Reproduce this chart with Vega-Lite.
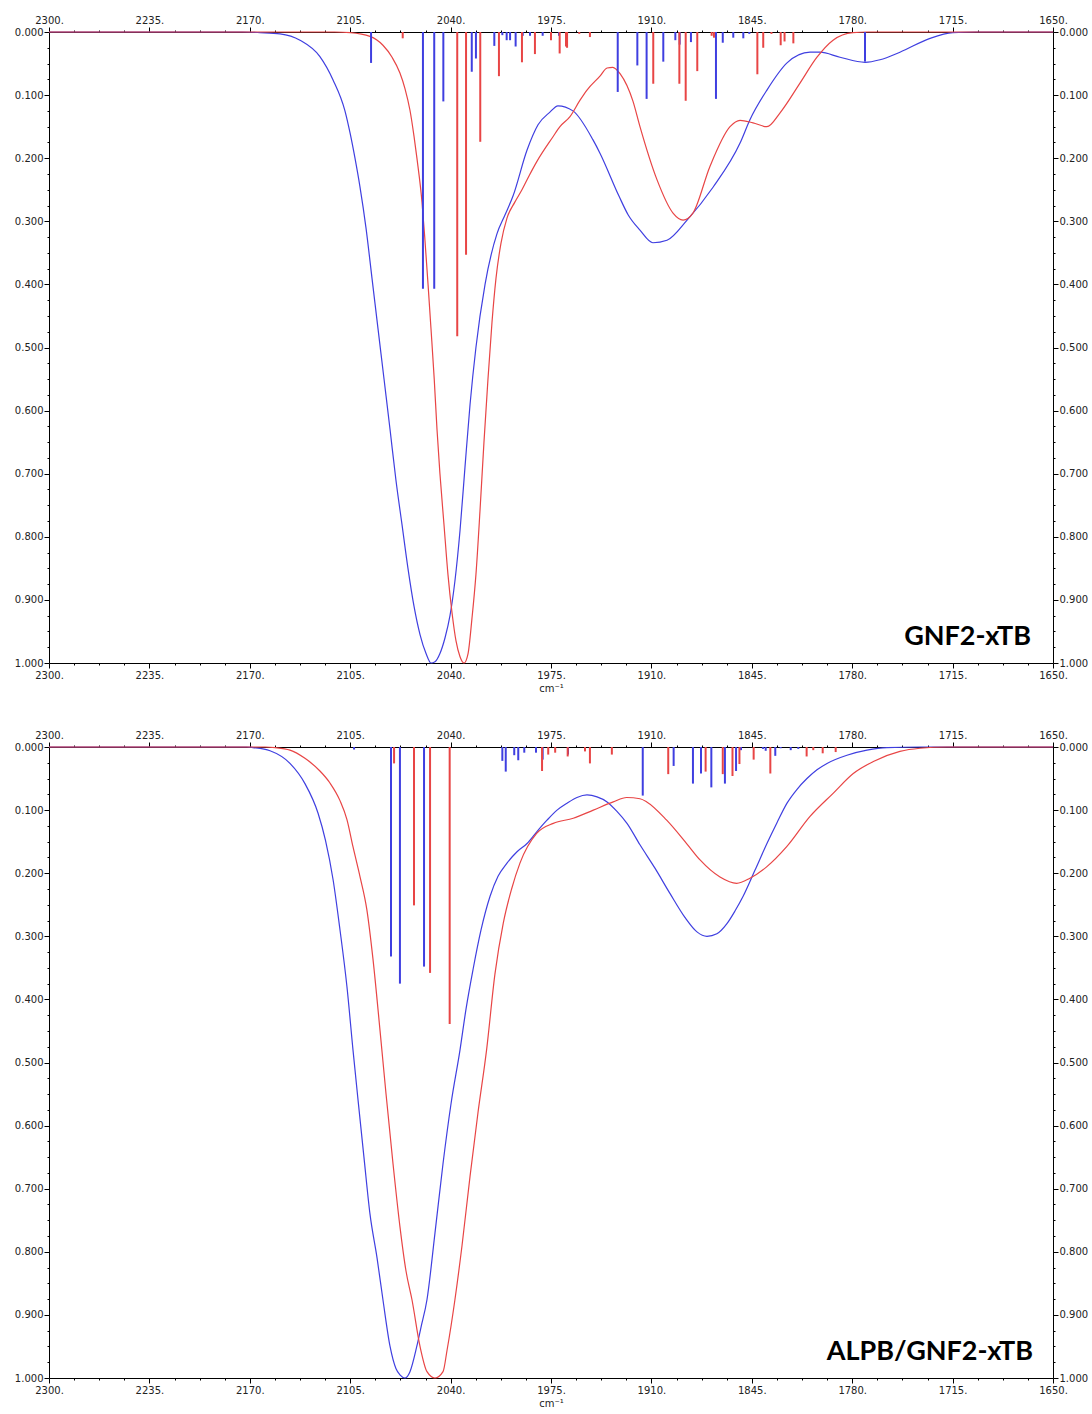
{
  "$schema": "https://vega.github.io/schema/vega-lite/v6.json",
  "padding": {"left": 14, "top": 15, "right": 0, "bottom": 0},
  "spacing": 84,
  "bounds": "flush",
  "background": "white",
  "config": {
    "view": {"stroke": null},
    "axis": {
      "grid": false,
      "domainColor": "#000000",
      "domainWidth": 1,
      "tickColor": "#000000",
      "tickWidth": 1,
      "labelFont": "DejaVu Sans",
      "labelFontSize": 10,
      "labelColor": "#222222",
      "titleFont": "DejaVu Sans",
      "titleFontSize": 10,
      "titleFontWeight": "normal",
      "titleColor": "#222222",
      "labelOverlap": false,
      "labelFlush": false,
      "labelBound": false
    }
  },
  "datasets": {
    "top_curves": [
      {"wn": 2300, "a": 0, "series": "S1"}, {"wn": 2250, "a": 0, "series": "S1"}, {"wn": 2200, "a": 0, "series": "S1"}, {"wn": 2175, "a": 0, "series": "S1"},
      {"wn": 2163.4, "a": 0.001, "series": "S1"}, {"wn": 2150.4, "a": 0.003, "series": "S1"}, {"wn": 2137.5, "a": 0.013, "series": "S1"}, {"wn": 2124.6, "a": 0.039, "series": "S1"},
      {"wn": 2116.1, "a": 0.076, "series": "S1"}, {"wn": 2108.4, "a": 0.125, "series": "S1"}, {"wn": 2105.1, "a": 0.16, "series": "S1"}, {"wn": 2101.9, "a": 0.2, "series": "S1"},
      {"wn": 2098.7, "a": 0.245, "series": "S1"}, {"wn": 2094.8, "a": 0.31, "series": "S1"}, {"wn": 2090.9, "a": 0.39, "series": "S1"}, {"wn": 2087.0, "a": 0.47, "series": "S1"},
      {"wn": 2083.1, "a": 0.55, "series": "S1"}, {"wn": 2079.2, "a": 0.63, "series": "S1"}, {"wn": 2075.4, "a": 0.71, "series": "S1"}, {"wn": 2071.5, "a": 0.78, "series": "S1"},
      {"wn": 2067.6, "a": 0.85, "series": "S1"}, {"wn": 2063.7, "a": 0.91, "series": "S1"}, {"wn": 2059.8, "a": 0.955, "series": "S1"}, {"wn": 2055.9, "a": 0.985, "series": "S1"},
      {"wn": 2052.7, "a": 1.0, "series": "S1"}, {"wn": 2050.1, "a": 0.998, "series": "S1"}, {"wn": 2046.9, "a": 0.985, "series": "S1"}, {"wn": 2043.6, "a": 0.96, "series": "S1"},
      {"wn": 2040.4, "a": 0.925, "series": "S1"}, {"wn": 2037.2, "a": 0.87, "series": "S1"}, {"wn": 2033.9, "a": 0.79, "series": "S1"}, {"wn": 2030.7, "a": 0.69, "series": "S1"},
      {"wn": 2027.4, "a": 0.59, "series": "S1"}, {"wn": 2023.6, "a": 0.5, "series": "S1"}, {"wn": 2017.7, "a": 0.4, "series": "S1"}, {"wn": 2010.0, "a": 0.32, "series": "S1"},
      {"wn": 2004.8, "a": 0.29, "series": "S1"}, {"wn": 1999.6, "a": 0.26, "series": "S1"}, {"wn": 1990.5, "a": 0.187, "series": "S1"}, {"wn": 1983.4, "a": 0.147, "series": "S1"},
      {"wn": 1975.7, "a": 0.127, "series": "S1"}, {"wn": 1970.5, "a": 0.117, "series": "S1"}, {"wn": 1960.8, "a": 0.125, "series": "S1"}, {"wn": 1947.8, "a": 0.171, "series": "S1"},
      {"wn": 1943.3, "a": 0.192, "series": "S1"}, {"wn": 1931.0, "a": 0.26, "series": "S1"}, {"wn": 1925.0, "a": 0.29, "series": "S1"}, {"wn": 1917.4, "a": 0.314, "series": "S1"},
      {"wn": 1909.0, "a": 0.334, "series": "S1"}, {"wn": 1899.9, "a": 0.33, "series": "S1"}, {"wn": 1886.9, "a": 0.298, "series": "S1"}, {"wn": 1870.1, "a": 0.246, "series": "S1"},
      {"wn": 1852.6, "a": 0.176, "series": "S1"}, {"wn": 1846.2, "a": 0.139, "series": "S1"}, {"wn": 1835.2, "a": 0.092, "series": "S1"}, {"wn": 1822.2, "a": 0.049, "series": "S1"},
      {"wn": 1807.3, "a": 0.032, "series": "S1"}, {"wn": 1800.8, "a": 0.032, "series": "S1"}, {"wn": 1787.9, "a": 0.04, "series": "S1"}, {"wn": 1771.7, "a": 0.048, "series": "S1"},
      {"wn": 1762.0, "a": 0.044, "series": "S1"}, {"wn": 1749.1, "a": 0.032, "series": "S1"}, {"wn": 1729.6, "a": 0.01, "series": "S1"}, {"wn": 1714.8, "a": 0.001, "series": "S1"},
      {"wn": 1700, "a": 0, "series": "S1"}, {"wn": 1650, "a": 0, "series": "S1"},
      {"wn": 2300, "a": 0, "series": "S2"}, {"wn": 2200, "a": 0, "series": "S2"}, {"wn": 2115, "a": 0, "series": "S2"}, {"wn": 2105, "a": 0.001, "series": "S2"},
      {"wn": 2092.2, "a": 0.007, "series": "S2"}, {"wn": 2083.8, "a": 0.021, "series": "S2"}, {"wn": 2077.9, "a": 0.04, "series": "S2"}, {"wn": 2072.8, "a": 0.065, "series": "S2"},
      {"wn": 2069.5, "a": 0.09, "series": "S2"}, {"wn": 2066.3, "a": 0.124, "series": "S2"}, {"wn": 2063.7, "a": 0.165, "series": "S2"}, {"wn": 2061.8, "a": 0.2, "series": "S2"},
      {"wn": 2058.5, "a": 0.27, "series": "S2"}, {"wn": 2056.6, "a": 0.33, "series": "S2"}, {"wn": 2054.6, "a": 0.4, "series": "S2"}, {"wn": 2052.7, "a": 0.47, "series": "S2"},
      {"wn": 2050.6, "a": 0.55, "series": "S2"}, {"wn": 2048.8, "a": 0.63, "series": "S2"}, {"wn": 2046.9, "a": 0.7, "series": "S2"}, {"wn": 2044.3, "a": 0.78, "series": "S2"},
      {"wn": 2041.7, "a": 0.86, "series": "S2"}, {"wn": 2039.1, "a": 0.92, "series": "S2"}, {"wn": 2036.5, "a": 0.965, "series": "S2"}, {"wn": 2033.9, "a": 0.99, "series": "S2"},
      {"wn": 2031.3, "a": 1.0, "series": "S2"}, {"wn": 2028.7, "a": 0.985, "series": "S2"}, {"wn": 2026.2, "a": 0.93, "series": "S2"}, {"wn": 2023.6, "a": 0.86, "series": "S2"},
      {"wn": 2021.0, "a": 0.76, "series": "S2"}, {"wn": 2018.4, "a": 0.65, "series": "S2"}, {"wn": 2015.8, "a": 0.55, "series": "S2"}, {"wn": 2013.2, "a": 0.46, "series": "S2"},
      {"wn": 2010.6, "a": 0.39, "series": "S2"}, {"wn": 2007.4, "a": 0.335, "series": "S2"}, {"wn": 2003.5, "a": 0.295, "series": "S2"}, {"wn": 1998.5, "a": 0.27, "series": "S2"},
      {"wn": 1993.8, "a": 0.25, "series": "S2"}, {"wn": 1989.0, "a": 0.227, "series": "S2"}, {"wn": 1984.1, "a": 0.205, "series": "S2"}, {"wn": 1973.7, "a": 0.166, "series": "S2"}, {"wn": 1969.2, "a": 0.15, "series": "S2"},
      {"wn": 1962.7, "a": 0.134, "series": "S2"}, {"wn": 1956.2, "a": 0.108, "series": "S2"}, {"wn": 1951.7, "a": 0.092, "series": "S2"}, {"wn": 1943.3, "a": 0.07, "series": "S2"},
      {"wn": 1938.7, "a": 0.057, "series": "S2"}, {"wn": 1935.0, "a": 0.056, "series": "S2"}, {"wn": 1930.3, "a": 0.066, "series": "S2"}, {"wn": 1921.9, "a": 0.11, "series": "S2"},
      {"wn": 1917.4, "a": 0.15, "series": "S2"}, {"wn": 1906.4, "a": 0.234, "series": "S2"}, {"wn": 1896.0, "a": 0.287, "series": "S2"}, {"wn": 1889.5, "a": 0.298, "series": "S2"},
      {"wn": 1883.1, "a": 0.287, "series": "S2"}, {"wn": 1872.1, "a": 0.213, "series": "S2"}, {"wn": 1859.1, "a": 0.15, "series": "S2"}, {"wn": 1852.6, "a": 0.14, "series": "S2"},
      {"wn": 1844.2, "a": 0.144, "series": "S2"}, {"wn": 1835.2, "a": 0.15, "series": "S2"}, {"wn": 1826.7, "a": 0.128, "series": "S2"}, {"wn": 1813.8, "a": 0.081, "series": "S2"},
      {"wn": 1802.8, "a": 0.04, "series": "S2"}, {"wn": 1792.4, "a": 0.013, "series": "S2"}, {"wn": 1779.5, "a": 0.001, "series": "S2"}, {"wn": 1770, "a": 0, "series": "S2"},
      {"wn": 1650, "a": 0, "series": "S2"}
    ],
    "top_sticks": [
      {"wn": 2091.5, "a": 0.049, "series": "S1"}, {"wn": 2057.9, "a": 0.407, "series": "S1"}, {"wn": 2050.6, "a": 0.407, "series": "S1"}, {"wn": 2044.7, "a": 0.11, "series": "S1"},
      {"wn": 2026.3, "a": 0.063, "series": "S1"}, {"wn": 2023.6, "a": 0.042, "series": "S1"}, {"wn": 2011.7, "a": 0.022, "series": "S1"}, {"wn": 2006.5, "a": 0.005, "series": "S1"},
      {"wn": 2003.7, "a": 0.013, "series": "S1"}, {"wn": 2001.5, "a": 0.013, "series": "S1"}, {"wn": 1997.9, "a": 0.023, "series": "S1"}, {"wn": 1993.3, "a": 0.006, "series": "S1"},
      {"wn": 1988.6, "a": 0.006, "series": "S1"}, {"wn": 1980.4, "a": 0.006, "series": "S1"}, {"wn": 1969.8, "a": 0.006, "series": "S1"}, {"wn": 1931.8, "a": 0.095, "series": "S1"},
      {"wn": 1919.1, "a": 0.053, "series": "S1"}, {"wn": 1913.1, "a": 0.106, "series": "S1"}, {"wn": 1902.3, "a": 0.047, "series": "S1"}, {"wn": 1894.5, "a": 0.013, "series": "S1"},
      {"wn": 1891.7, "a": 0.02, "series": "S1"}, {"wn": 1884.4, "a": 0.016, "series": "S1"}, {"wn": 1868.2, "a": 0.106, "series": "S1"}, {"wn": 1863.8, "a": 0.017, "series": "S1"},
      {"wn": 1857.0, "a": 0.009, "series": "S1"}, {"wn": 1850.5, "a": 0.01, "series": "S1"}, {"wn": 1846.6, "a": 0.003, "series": "S1"}, {"wn": 1771.7, "a": 0.047, "series": "S1"},
      {"wn": 2071.0, "a": 0.01, "series": "S2"}, {"wn": 2035.7, "a": 0.482, "series": "S2"}, {"wn": 2030.0, "a": 0.353, "series": "S2"}, {"wn": 2020.8, "a": 0.174, "series": "S2"},
      {"wn": 2008.7, "a": 0.07, "series": "S2"}, {"wn": 1993.8, "a": 0.048, "series": "S2"}, {"wn": 1985.4, "a": 0.035, "series": "S2"}, {"wn": 1975.0, "a": 0.013, "series": "S2"},
      {"wn": 1969.4, "a": 0.034, "series": "S2"}, {"wn": 1965.3, "a": 0.023, "series": "S2"}, {"wn": 1964.6, "a": 0.025, "series": "S2"}, {"wn": 1956.7, "a": 0.003, "series": "S2"},
      {"wn": 1949.8, "a": 0.008, "series": "S2"}, {"wn": 1908.8, "a": 0.082, "series": "S2"}, {"wn": 1891.9, "a": 0.082, "series": "S2"}, {"wn": 1887.8, "a": 0.109, "series": "S2"},
      {"wn": 1880.3, "a": 0.062, "series": "S2"}, {"wn": 1871.0, "a": 0.006, "series": "S2"}, {"wn": 1869.5, "a": 0.009, "series": "S2"}, {"wn": 1841.4, "a": 0.067, "series": "S2"},
      {"wn": 1837.6, "a": 0.025, "series": "S2"}, {"wn": 1832.3, "a": 0.003, "series": "S2"}, {"wn": 1826.3, "a": 0.021, "series": "S2"}, {"wn": 1823.8, "a": 0.015, "series": "S2"},
      {"wn": 1818.1, "a": 0.018, "series": "S2"}
    ],
    "bottom_curves": [
      {"wn": 2300, "a": 0, "series": "S1"}, {"wn": 2200, "a": 0, "series": "S1"}, {"wn": 2172, "a": 0, "series": "S1"}, {"wn": 2167.9, "a": 0.001, "series": "S1"},
      {"wn": 2156.9, "a": 0.006, "series": "S1"}, {"wn": 2144.0, "a": 0.026, "series": "S1"}, {"wn": 2134.3, "a": 0.058, "series": "S1"}, {"wn": 2125.8, "a": 0.105, "series": "S1"},
      {"wn": 2121.0, "a": 0.148, "series": "S1"}, {"wn": 2116.1, "a": 0.21, "series": "S1"}, {"wn": 2111.6, "a": 0.29, "series": "S1"}, {"wn": 2107.1, "a": 0.38, "series": "S1"}, {"wn": 2103.2, "a": 0.48, "series": "S1"},
      {"wn": 2099.9, "a": 0.56, "series": "S1"}, {"wn": 2096.1, "a": 0.65, "series": "S1"}, {"wn": 2092.2, "a": 0.74, "series": "S1"}, {"wn": 2087.6, "a": 0.81, "series": "S1"},
      {"wn": 2083.8, "a": 0.876, "series": "S1"}, {"wn": 2079.2, "a": 0.95, "series": "S1"}, {"wn": 2075.4, "a": 0.985, "series": "S1"}, {"wn": 2072.8, "a": 0.995, "series": "S1"},
      {"wn": 2069.5, "a": 1.0, "series": "S1"}, {"wn": 2066.3, "a": 0.99, "series": "S1"}, {"wn": 2061.9, "a": 0.95, "series": "S1"}, {"wn": 2059.2, "a": 0.92, "series": "S1"},
      {"wn": 2055.3, "a": 0.876, "series": "S1"}, {"wn": 2050.1, "a": 0.77, "series": "S1"}, {"wn": 2044.9, "a": 0.66, "series": "S1"}, {"wn": 2039.7, "a": 0.565, "series": "S1"},
      {"wn": 2033.9, "a": 0.48, "series": "S1"}, {"wn": 2030.0, "a": 0.415, "series": "S1"}, {"wn": 2025.5, "a": 0.353, "series": "S1"}, {"wn": 2020.3, "a": 0.29, "series": "S1"},
      {"wn": 2014.5, "a": 0.237, "series": "S1"}, {"wn": 2009.3, "a": 0.205, "series": "S1"}, {"wn": 2003.5, "a": 0.184, "series": "S1"}, {"wn": 1997.0, "a": 0.166, "series": "S1"},
      {"wn": 1990.5, "a": 0.153, "series": "S1"}, {"wn": 1984.1, "a": 0.134, "series": "S1"}, {"wn": 1977.6, "a": 0.116, "series": "S1"}, {"wn": 1971.1, "a": 0.1, "series": "S1"},
      {"wn": 1964.6, "a": 0.089, "series": "S1"}, {"wn": 1958.2, "a": 0.08, "series": "S1"}, {"wn": 1951.7, "a": 0.076, "series": "S1"}, {"wn": 1945.2, "a": 0.079, "series": "S1"},
      {"wn": 1938.7, "a": 0.087, "series": "S1"}, {"wn": 1932.3, "a": 0.102, "series": "S1"}, {"wn": 1925.8, "a": 0.121, "series": "S1"}, {"wn": 1917.4, "a": 0.155, "series": "S1"},
      {"wn": 1907.7, "a": 0.192, "series": "S1"}, {"wn": 1898.0, "a": 0.232, "series": "S1"}, {"wn": 1888.3, "a": 0.27, "series": "S1"}, {"wn": 1880.5, "a": 0.293, "series": "S1"},
      {"wn": 1874.0, "a": 0.3, "series": "S1"}, {"wn": 1867.6, "a": 0.296, "series": "S1"}, {"wn": 1861.1, "a": 0.28, "series": "S1"}, {"wn": 1855.9, "a": 0.26, "series": "S1"},
      {"wn": 1850.7, "a": 0.237, "series": "S1"}, {"wn": 1842.9, "a": 0.195, "series": "S1"}, {"wn": 1835.2, "a": 0.153, "series": "S1"}, {"wn": 1828.7, "a": 0.12, "series": "S1"},
      {"wn": 1822.2, "a": 0.089, "series": "S1"}, {"wn": 1815.7, "a": 0.067, "series": "S1"}, {"wn": 1809.3, "a": 0.05, "series": "S1"}, {"wn": 1802.8, "a": 0.036, "series": "S1"},
      {"wn": 1796.3, "a": 0.026, "series": "S1"}, {"wn": 1783.4, "a": 0.013, "series": "S1"}, {"wn": 1770.4, "a": 0.005, "series": "S1"}, {"wn": 1757.5, "a": 0.001, "series": "S1"},
      {"wn": 1736, "a": 0, "series": "S1"}, {"wn": 1650, "a": 0, "series": "S1"},
      {"wn": 2300, "a": 0, "series": "S2"}, {"wn": 2200, "a": 0, "series": "S2"}, {"wn": 2160, "a": 0, "series": "S2"}, {"wn": 2153.7, "a": 0.001, "series": "S2"},
      {"wn": 2144.0, "a": 0.005, "series": "S2"}, {"wn": 2134.3, "a": 0.018, "series": "S2"}, {"wn": 2124.6, "a": 0.038, "series": "S2"}, {"wn": 2118.1, "a": 0.057, "series": "S2"},
      {"wn": 2111.6, "a": 0.085, "series": "S2"}, {"wn": 2107.1, "a": 0.115, "series": "S2"}, {"wn": 2103.2, "a": 0.158, "series": "S2"}, {"wn": 2098.7, "a": 0.205, "series": "S2"},
      {"wn": 2094.2, "a": 0.258, "series": "S2"}, {"wn": 2090.3, "a": 0.335, "series": "S2"}, {"wn": 2085.7, "a": 0.449, "series": "S2"}, {"wn": 2081.8, "a": 0.55, "series": "S2"},
      {"wn": 2077.3, "a": 0.66, "series": "S2"}, {"wn": 2072.8, "a": 0.76, "series": "S2"}, {"wn": 2068.9, "a": 0.83, "series": "S2"}, {"wn": 2065.0, "a": 0.876, "series": "S2"},
      {"wn": 2059.8, "a": 0.95, "series": "S2"}, {"wn": 2055.3, "a": 0.99, "series": "S2"}, {"wn": 2050.1, "a": 1.0, "series": "S2"}, {"wn": 2044.9, "a": 0.99, "series": "S2"},
      {"wn": 2042.3, "a": 0.956, "series": "S2"}, {"wn": 2037.2, "a": 0.876, "series": "S2"}, {"wn": 2032.6, "a": 0.79, "series": "S2"}, {"wn": 2027.4, "a": 0.68, "series": "S2"},
      {"wn": 2022.3, "a": 0.58, "series": "S2"}, {"wn": 2016.7, "a": 0.48, "series": "S2"}, {"wn": 2011.3, "a": 0.36, "series": "S2"}, {"wn": 2005.9, "a": 0.279, "series": "S2"},
      {"wn": 2000.5, "a": 0.225, "series": "S2"}, {"wn": 1995.1, "a": 0.184, "series": "S2"}, {"wn": 1984.3, "a": 0.137, "series": "S2"}, {"wn": 1973.5, "a": 0.121, "series": "S2"},
      {"wn": 1960.6, "a": 0.113, "series": "S2"}, {"wn": 1947.6, "a": 0.1, "series": "S2"}, {"wn": 1934.7, "a": 0.087, "series": "S2"}, {"wn": 1926.0, "a": 0.08, "series": "S2"},
      {"wn": 1917.4, "a": 0.082, "series": "S2"}, {"wn": 1913.0, "a": 0.087, "series": "S2"}, {"wn": 1900.1, "a": 0.116, "series": "S2"}, {"wn": 1887.2, "a": 0.153, "series": "S2"},
      {"wn": 1878.5, "a": 0.179, "series": "S2"}, {"wn": 1865.6, "a": 0.206, "series": "S2"}, {"wn": 1854.8, "a": 0.216, "series": "S2"}, {"wn": 1846.2, "a": 0.208, "series": "S2"},
      {"wn": 1835.4, "a": 0.19, "series": "S2"}, {"wn": 1822.4, "a": 0.158, "series": "S2"}, {"wn": 1807.3, "a": 0.11, "series": "S2"}, {"wn": 1792.2, "a": 0.073, "series": "S2"},
      {"wn": 1779.3, "a": 0.042, "series": "S2"}, {"wn": 1766.3, "a": 0.023, "series": "S2"}, {"wn": 1749.1, "a": 0.007, "series": "S2"}, {"wn": 1736.1, "a": 0.002, "series": "S2"},
      {"wn": 1718.8, "a": 0, "series": "S2"}, {"wn": 1650, "a": 0, "series": "S2"}
    ],
    "bottom_sticks": [
      {"wn": 2102.5, "a": 0.004, "series": "S1"}, {"wn": 2078.6, "a": 0.332, "series": "S1"}, {"wn": 2072.8, "a": 0.375, "series": "S1"}, {"wn": 2057.2, "a": 0.348, "series": "S1"},
      {"wn": 2006.5, "a": 0.022, "series": "S1"}, {"wn": 2004.3, "a": 0.039, "series": "S1"}, {"wn": 1998.8, "a": 0.013, "series": "S1"}, {"wn": 1996.2, "a": 0.021, "series": "S1"},
      {"wn": 1992.3, "a": 0.009, "series": "S1"}, {"wn": 1984.7, "a": 0.009, "series": "S1"}, {"wn": 1980.4, "a": 0.02, "series": "S1"}, {"wn": 1964.0, "a": 0.012, "series": "S1"},
      {"wn": 1915.6, "a": 0.077, "series": "S1"}, {"wn": 1895.6, "a": 0.03, "series": "S1"}, {"wn": 1883.1, "a": 0.058, "series": "S1"}, {"wn": 1877.9, "a": 0.042, "series": "S1"},
      {"wn": 1871.2, "a": 0.064, "series": "S1"}, {"wn": 1862.4, "a": 0.058, "series": "S1"}, {"wn": 1855.2, "a": 0.038, "series": "S1"}, {"wn": 1852.0, "a": 0.005, "series": "S1"},
      {"wn": 1837.8, "a": 0.003, "series": "S1"}, {"wn": 1836.0, "a": 0.006, "series": "S1"}, {"wn": 1829.8, "a": 0.014, "series": "S1"}, {"wn": 1826.3, "a": 0.002, "series": "S1"},
      {"wn": 1819.8, "a": 0.005, "series": "S1"}, {"wn": 1814.9, "a": 0.003, "series": "S1"},
      {"wn": 2076.6, "a": 0.026, "series": "S2"}, {"wn": 2063.7, "a": 0.251, "series": "S2"}, {"wn": 2053.3, "a": 0.358, "series": "S2"}, {"wn": 2040.6, "a": 0.439, "series": "S2"},
      {"wn": 1980.8, "a": 0.038, "series": "S2"}, {"wn": 1976.8, "a": 0.012, "series": "S2"}, {"wn": 1972.3, "a": 0.009, "series": "S2"}, {"wn": 1964.2, "a": 0.015, "series": "S2"},
      {"wn": 1953.0, "a": 0.007, "series": "S2"}, {"wn": 1949.8, "a": 0.026, "series": "S2"}, {"wn": 1935.6, "a": 0.012, "series": "S2"}, {"wn": 1899.1, "a": 0.043, "series": "S2"},
      {"wn": 1874.9, "a": 0.039, "series": "S2"}, {"wn": 1863.8, "a": 0.043, "series": "S2"}, {"wn": 1857.5, "a": 0.046, "series": "S2"}, {"wn": 1853.0, "a": 0.027, "series": "S2"},
      {"wn": 1843.8, "a": 0.02, "series": "S2"}, {"wn": 1833.0, "a": 0.042, "series": "S2"}, {"wn": 1809.5, "a": 0.015, "series": "S2"}, {"wn": 1805.2, "a": 0.005, "series": "S2"},
      {"wn": 1799.1, "a": 0.01, "series": "S2"}, {"wn": 1790.7, "a": 0.008, "series": "S2"}
    ]
  },
  "vconcat": [
    {
      "width": 1004,
      "height": 631,
      "resolve": {"axis": {"x": "independent", "y": "independent"}},
      "layer": [
        {
          "data": {"name": "top_curves"},
          "mark": {"type": "line", "strokeWidth": 1.2, "interpolate": "monotone"},
          "encoding": {
            "x": {"field": "wn", "type": "quantitative", "scale": {"domain": [1650, 2300], "reverse": true, "nice": false, "zero": false},
              "axis": {"orient": "bottom", "title": "cm⁻¹", "titlePadding": 3,
                "values": [2300, 2283.75, 2267.5, 2251.25, 2235, 2218.75, 2202.5, 2186.25, 2170, 2153.75, 2137.5, 2121.25, 2105, 2088.75, 2072.5, 2056.25, 2040, 2023.75, 2007.5, 1991.25, 1975, 1958.75, 1942.5, 1926.25, 1910, 1893.75, 1877.5, 1861.25, 1845, 1828.75, 1812.5, 1796.25, 1780, 1763.75, 1747.5, 1731.25, 1715, 1698.75, 1682.5, 1666.25, 1650],
                "labelExpr": "(2300 - datum.value) % 65 === 0 ? datum.value + '.' : ''",
                "tickSize": {"condition": {"test": "(2300 - datum.value) % 65 === 0", "value": 5}, "value": 2},
                "labelPadding": 2}},
            "y": {"field": "a", "type": "quantitative", "scale": {"domain": [0, 1], "reverse": true, "nice": false, "zero": false},
              "axis": {"orient": "left", "title": null,
                "values": [0, 0.025, 0.05, 0.075, 0.1, 0.125, 0.15, 0.175, 0.2, 0.225, 0.25, 0.275, 0.3, 0.325, 0.35, 0.375, 0.4, 0.425, 0.45, 0.475, 0.5, 0.525, 0.55, 0.575, 0.6, 0.625, 0.65, 0.675, 0.7, 0.725, 0.75, 0.775, 0.8, 0.825, 0.85, 0.875, 0.9, 0.925, 0.95, 0.975, 1],
                "labelExpr": "abs(datum.value * 10 - round(datum.value * 10)) < 0.001 ? format(datum.value, '.3f') : ''",
                "tickSize": {"condition": {"test": "abs(datum.value * 10 - round(datum.value * 10)) < 0.001", "value": 5}, "value": 2},
                "labelPadding": 1}},
            "color": {"field": "series", "type": "nominal", "scale": {"domain": ["S1", "S2"], "range": ["#3f3fe0", "#e84545"]}, "legend": null}
          }
        },
        {
          "data": {"name": "top_sticks"},
          "mark": {"type": "rule", "strokeWidth": 2},
          "encoding": {
            "x": {"field": "wn", "type": "quantitative",
              "axis": {"orient": "top", "title": null,
                "values": [2300, 2283.75, 2267.5, 2251.25, 2235, 2218.75, 2202.5, 2186.25, 2170, 2153.75, 2137.5, 2121.25, 2105, 2088.75, 2072.5, 2056.25, 2040, 2023.75, 2007.5, 1991.25, 1975, 1958.75, 1942.5, 1926.25, 1910, 1893.75, 1877.5, 1861.25, 1845, 1828.75, 1812.5, 1796.25, 1780, 1763.75, 1747.5, 1731.25, 1715, 1698.75, 1682.5, 1666.25, 1650],
                "labelExpr": "(2300 - datum.value) % 65 === 0 ? datum.value + '.' : ''",
                "tickSize": {"condition": {"test": "(2300 - datum.value) % 65 === 0", "value": 5}, "value": 2},
                "labelPadding": 2}},
            "y": {"field": "a", "type": "quantitative",
              "axis": {"orient": "right", "title": null,
                "values": [0, 0.025, 0.05, 0.075, 0.1, 0.125, 0.15, 0.175, 0.2, 0.225, 0.25, 0.275, 0.3, 0.325, 0.35, 0.375, 0.4, 0.425, 0.45, 0.475, 0.5, 0.525, 0.55, 0.575, 0.6, 0.625, 0.65, 0.675, 0.7, 0.725, 0.75, 0.775, 0.8, 0.825, 0.85, 0.875, 0.9, 0.925, 0.95, 0.975, 1],
                "labelExpr": "abs(datum.value * 10 - round(datum.value * 10)) < 0.001 ? format(datum.value, '.3f') : ''",
                "tickSize": {"condition": {"test": "abs(datum.value * 10 - round(datum.value * 10)) < 0.001", "value": 5}, "value": 2},
                "labelPadding": 1}},
            "y2": {"datum": 0},
            "color": {"field": "series", "type": "nominal", "legend": null}
          }
        },
        {
          "data": {"values": [{"label": "GNF2-xTB"}]},
          "mark": {"type": "text", "align": "right", "baseline": "alphabetic", "font": "Lato", "fontWeight": "bold", "fontSize": 27, "color": "#000000"},
          "encoding": {
            "x": {"datum": 1664.3, "type": "quantitative", "axis": null},
            "y": {"datum": 0.971, "type": "quantitative", "axis": null},
            "text": {"field": "label"}
          }
        }
      ]
    },
    {
      "width": 1004,
      "height": 631,
      "resolve": {"axis": {"x": "independent", "y": "independent"}},
      "layer": [
        {
          "data": {"name": "bottom_curves"},
          "mark": {"type": "line", "strokeWidth": 1.2, "interpolate": "monotone"},
          "encoding": {
            "x": {"field": "wn", "type": "quantitative", "scale": {"domain": [1650, 2300], "reverse": true, "nice": false, "zero": false},
              "axis": {"orient": "bottom", "title": "cm⁻¹", "titlePadding": 3,
                "values": [2300, 2283.75, 2267.5, 2251.25, 2235, 2218.75, 2202.5, 2186.25, 2170, 2153.75, 2137.5, 2121.25, 2105, 2088.75, 2072.5, 2056.25, 2040, 2023.75, 2007.5, 1991.25, 1975, 1958.75, 1942.5, 1926.25, 1910, 1893.75, 1877.5, 1861.25, 1845, 1828.75, 1812.5, 1796.25, 1780, 1763.75, 1747.5, 1731.25, 1715, 1698.75, 1682.5, 1666.25, 1650],
                "labelExpr": "(2300 - datum.value) % 65 === 0 ? datum.value + '.' : ''",
                "tickSize": {"condition": {"test": "(2300 - datum.value) % 65 === 0", "value": 5}, "value": 2},
                "labelPadding": 2}},
            "y": {"field": "a", "type": "quantitative", "scale": {"domain": [0, 1], "reverse": true, "nice": false, "zero": false},
              "axis": {"orient": "left", "title": null,
                "values": [0, 0.025, 0.05, 0.075, 0.1, 0.125, 0.15, 0.175, 0.2, 0.225, 0.25, 0.275, 0.3, 0.325, 0.35, 0.375, 0.4, 0.425, 0.45, 0.475, 0.5, 0.525, 0.55, 0.575, 0.6, 0.625, 0.65, 0.675, 0.7, 0.725, 0.75, 0.775, 0.8, 0.825, 0.85, 0.875, 0.9, 0.925, 0.95, 0.975, 1],
                "labelExpr": "abs(datum.value * 10 - round(datum.value * 10)) < 0.001 ? format(datum.value, '.3f') : ''",
                "tickSize": {"condition": {"test": "abs(datum.value * 10 - round(datum.value * 10)) < 0.001", "value": 5}, "value": 2},
                "labelPadding": 1}},
            "color": {"field": "series", "type": "nominal", "scale": {"domain": ["S1", "S2"], "range": ["#3f3fe0", "#e84545"]}, "legend": null}
          }
        },
        {
          "data": {"name": "bottom_sticks"},
          "mark": {"type": "rule", "strokeWidth": 2},
          "encoding": {
            "x": {"field": "wn", "type": "quantitative",
              "axis": {"orient": "top", "title": null,
                "values": [2300, 2283.75, 2267.5, 2251.25, 2235, 2218.75, 2202.5, 2186.25, 2170, 2153.75, 2137.5, 2121.25, 2105, 2088.75, 2072.5, 2056.25, 2040, 2023.75, 2007.5, 1991.25, 1975, 1958.75, 1942.5, 1926.25, 1910, 1893.75, 1877.5, 1861.25, 1845, 1828.75, 1812.5, 1796.25, 1780, 1763.75, 1747.5, 1731.25, 1715, 1698.75, 1682.5, 1666.25, 1650],
                "labelExpr": "(2300 - datum.value) % 65 === 0 ? datum.value + '.' : ''",
                "tickSize": {"condition": {"test": "(2300 - datum.value) % 65 === 0", "value": 5}, "value": 2},
                "labelPadding": 2}},
            "y": {"field": "a", "type": "quantitative",
              "axis": {"orient": "right", "title": null,
                "values": [0, 0.025, 0.05, 0.075, 0.1, 0.125, 0.15, 0.175, 0.2, 0.225, 0.25, 0.275, 0.3, 0.325, 0.35, 0.375, 0.4, 0.425, 0.45, 0.475, 0.5, 0.525, 0.55, 0.575, 0.6, 0.625, 0.65, 0.675, 0.7, 0.725, 0.75, 0.775, 0.8, 0.825, 0.85, 0.875, 0.9, 0.925, 0.95, 0.975, 1],
                "labelExpr": "abs(datum.value * 10 - round(datum.value * 10)) < 0.001 ? format(datum.value, '.3f') : ''",
                "tickSize": {"condition": {"test": "abs(datum.value * 10 - round(datum.value * 10)) < 0.001", "value": 5}, "value": 2},
                "labelPadding": 1}},
            "y2": {"datum": 0},
            "color": {"field": "series", "type": "nominal", "legend": null}
          }
        },
        {
          "data": {"values": [{"label": "ALPB/GNF2-xTB"}]},
          "mark": {"type": "text", "align": "right", "baseline": "alphabetic", "font": "Lato", "fontWeight": "bold", "fontSize": 27, "color": "#000000"},
          "encoding": {
            "x": {"datum": 1663, "type": "quantitative", "axis": null},
            "y": {"datum": 0.971, "type": "quantitative", "axis": null},
            "text": {"field": "label"}
          }
        }
      ]
    }
  ]
}
